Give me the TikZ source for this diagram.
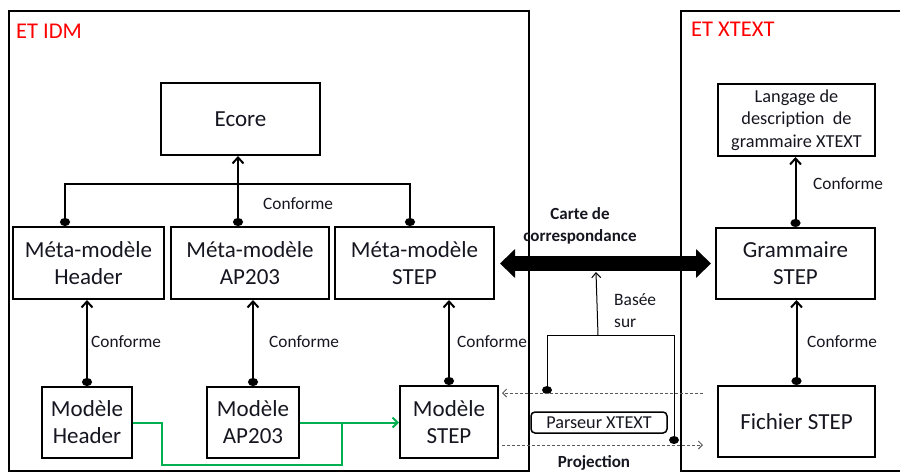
\documentclass[tikz,border=0pt]{standalone}
\usepackage{fontspec}
\setmainfont{Carlito}
\usetikzlibrary{arrows.meta,calc}
\definecolor{idmred}{RGB}{255,0,0}
\definecolor{grn}{RGB}{0,176,80}
\definecolor{txt}{RGB}{22,22,32}
\definecolor{dgray}{RGB}{90,90,90}
\begin{document}
\begin{tikzpicture}[x=1pt,y=-1pt,
  box/.style={draw, line width=2pt, inner sep=0pt, align=center, text=txt,
    font=\fontsize{23}{27}\selectfont},
  conf/.style={line width=2pt, {Circle[length=8pt,width=10pt]}-{Straight Barb[length=6pt,width=11pt]}},
  lbl/.style={font=\fontsize{17.3}{20}\selectfont, anchor=west, inner sep=0pt, text=txt},
  dasharr/.style={dgray, line width=0.9pt, dash pattern=on 3pt off 2pt, -{Straight Barb[length=4pt,width=8pt]}},
  grline/.style={grn, line width=2pt},
  title/.style={font=\fontsize{22.5}{26}\selectfont, text=idmred, anchor=base west, inner sep=0pt}
]
\useasboundingbox (0,0) rectangle (900,472);

% frames
\draw[line width=2pt] (9,11) rectangle (529,471);
\draw[line width=2pt] (902,11) -- (681,11) -- (681,471) -- (902,471);
\node[title] (tidm) at (16,38) {ET IDM};
\node[title] (txtx) at (691,36) {ET XTEXT};

% left boxes
\node[box, minimum width=159pt, minimum height=72pt] (ecore) at (240.5,119) {Ecore};
\node[box, minimum width=151pt, minimum height=72pt] (metah) at (88.5,263) {Méta-modèle\\Header};
\node[box, minimum width=158pt, minimum height=72pt] (metaap) at (250,263) {Méta-modèle\\AP203};
\node[box, minimum width=159pt, minimum height=72pt] (metastep) at (414.5,263) {Méta-modèle\\STEP};
\node[box, minimum width=90pt, minimum height=71pt] (modh) at (87,422.5) {Modèle\\Header};
\node[box, minimum width=92pt, minimum height=71pt] (modap) at (253,422.5) {Modèle\\AP203};
\node[box, minimum width=98pt, minimum height=72pt] (modstep) at (449,422) {Modèle\\STEP};

% right boxes
\node[box, minimum width=157pt, minimum height=72pt, font=\fontsize{18.3}{22.5}\selectfont] (langage) at (796.5,120) {Langage de\\description\ \ de\\grammaire XTEXT};
\node[box, minimum width=159pt, minimum height=71pt] (gram) at (795.5,263.5) {Grammaire\\STEP};
\node[box, minimum width=157pt, minimum height=71pt] (fichier) at (796.5,421.5) {Fichier STEP};
\node[draw, line width=1.5pt, rounded corners=4pt, inner sep=0pt, minimum width=136pt, minimum height=21pt,
  font=\fontsize{18.2}{21}\selectfont, text=txt] (parseur) at (599,422.5) {Parseur XTEXT};

% bus to Ecore
\coordinate (bl) at (65,184);
\coordinate (bm) at (238,184);
\coordinate (br) at (410,184);
\draw[line width=2pt, {Circle[length=8pt,width=10pt]}-{Circle[length=8pt,width=10pt]}]
  (metah.north -| bl) -- (bl) -- (br) -- (metastep.north -| br);
\draw[conf] (metaap.north -| bm) -- (ecore.south -| bm);
\node[lbl] (c0) at (263,204) {Conforme};

% model -> meta
\draw[conf] (modh.north) -- (modh.north |- metah.south);
\draw[conf] (modap.north) -- (modap.north |- metaap.south);
\draw[conf] (modstep.north) -- (modstep.north |- metastep.south);
\node[lbl] (c1) at (91,342) {Conforme};
\node[lbl] (c2) at (269,342) {Conforme};
\node[lbl] (c3) at (457,342) {Conforme};

% right conforme
\draw[conf] (gram.north) -- (gram.north |- langage.south);
\draw[conf] (fichier.north) -- (fichier.north |- gram.south);
\node[lbl] (c4) at (813,184) {Conforme};
\node[lbl] (c5) at (807,342) {Conforme};

% green links
\coordinate (gx) at (162,465);
\coordinate (gj) at (342,465);
\draw[grline] (modh.east) -| (gx) -- (gj) -- (gj |- modap.east);
\draw[grline, -{Straight Barb[length=5pt,width=10pt]}] (modap.east) -- (modap.east -| modstep.west);

% big double arrow
\coordinate (bal) at (500,263.5);
\coordinate (bar) at (711,263.5);
\draw[line width=15pt, {Triangle[length=15pt,width=28pt]}-{Triangle[length=15pt,width=28pt]}] (bal) -- (bar);
\node[font=\bfseries\fontsize{17}{22}\selectfont, text=txt, align=center, inner sep=0pt, anchor=base] (carte) at (580,241) {Carte de\\correspondance};

% basee sur
\coordinate (bsb) at (598,335);
\coordinate (bst) at (596,272);
\coordinate (bkl) at (547,390);
\coordinate (bkr) at (674,440);
\draw[line width=1pt, -{Straight Barb[length=5pt,width=9pt]}] (bsb) -- (bst);
\draw[line width=1pt] (bkl) -- (bkl |- bsb) -- (bkr |- bsb) -- (bkr);
\fill (bkl) ellipse (5pt and 4pt);
\fill (bkr) ellipse (5pt and 4pt);
\node[font=\fontsize{17.4}{21.5}\selectfont, text=txt, align=left, inner sep=0pt, anchor=base west] (basee) at (614,327) {Basée\\sur};

% dashed arrows
\coordinate (da1) at (703,393);
\coordinate (da2) at (502,393);
\coordinate (db1) at (502,445);
\coordinate (db2) at (703,445);
\draw[dasharr] (da1) -- (da2);
\draw[dasharr] (db1) -- (db2);
\node[font=\bfseries\fontsize{17}{20}\selectfont, text=txt, inner sep=0pt, anchor=base] (proj) at (594,467) {Projection};
\end{tikzpicture}
\end{document}
